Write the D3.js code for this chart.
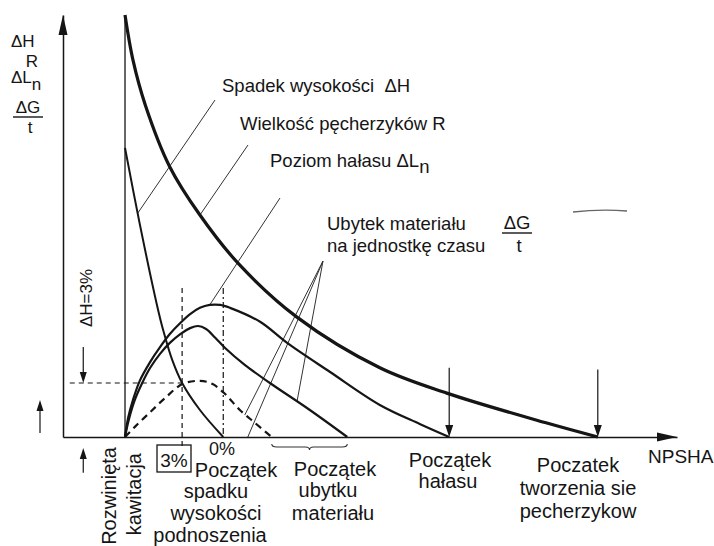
<!DOCTYPE html>
<html>
<head>
<meta charset="utf-8">
<script src="https://cdn.jsdelivr.net/npm/d3@7"></script>
<style>
  body { margin: 0; background: #fff; }
  svg { display: block; font-family: 'Liberation Sans', Arial, sans-serif; }
</style>
</head>
<body>
<div id="chart"></div>
<script>
// x = NPSHA (relative 0-100), y = relative value (0-100)
var bubble_size = [[10.1,100],[11.4,89.3],[13.4,78.7],[17.4,64.0],[22.3,52.6],[28.5,41.2],[38.1,28.4],[51.6,16.4],[62.5,10.4],[78.8,3.3],[87.1,0]];
var head_drop = [[10.1,68.5],[12.5,50.5],[15.3,31.3],[16.3,25.4],[17.8,18.2],[19.4,12.8],[22.3,6.4],[26.1,0]];
var noise_level = [[10.1,0],[10.6,4.5],[11.4,8.8],[12.5,13.3],[14.2,17.8],[15.8,21.3],[17.4,24.4],[19.1,27.0],[20.7,29.1],[22.3,30.6],[23.9,31.3],[25.6,31.3],[27.2,30.6],[32.1,27.3],[36.5,22.3],[43.5,15.4],[51.6,7.6],[58.1,3.1],[62.9,0]];
var material_loss = [[10.1,0],[10.7,4.0],[11.7,8.8],[12.9,12.8],[14.2,16.4],[15.8,19.7],[17.4,22.3],[19.1,24.4],[20.7,25.8],[22.0,26.3],[23.3,25.6],[24.8,23.5],[26.4,21.1],[29.6,17.1],[33.7,12.8],[40.2,6.4],[46.3,0]];
var material_loss_rate = [[10.1,0],[11.7,2.4],[14.2,5.9],[16.6,9.2],[19.5,12.6],[22.3,13.3],[24.3,12.6],[26.4,10.2],[28.8,6.4],[31.3,3.3],[34.0,0]];

var developed_x = 10.1;
var drop3_x = 19.4;
var drop0_x = 26.1;
var noise_start_x = 62.9;
var bubble_start_x = 87.1;
var dh3_level = 12.8;

function CavitationPlotter() {
  this._width = 714;
  this._height = 546;
  this._font = '18.5px';
  this._font_bottom = '20px';
  this._ink = '#151515';
}

CavitationPlotter.prototype._arrow = function(g, x1, y1, x2, y2, head_len, head_w, sw) {
  let ang = Math.atan2(y2 - y1, x2 - x1);
  let bx = x2 - head_len * Math.cos(ang);
  let by = y2 - head_len * Math.sin(ang);
  let nx = -Math.sin(ang) * head_w;
  let ny = Math.cos(ang) * head_w;
  g.append('line')
    .attr('x1', x1).attr('y1', y1).attr('x2', bx).attr('y2', by)
    .attr('stroke', this._ink).attr('stroke-width', sw || 1.2);
  g.append('path')
    .attr('d', 'M' + x2 + ',' + y2 + 'L' + (bx + nx) + ',' + (by + ny) + 'L' + (bx - nx) + ',' + (by - ny) + 'Z')
    .attr('fill', this._ink);
}

CavitationPlotter.prototype._text = function(g, x, y, txt, size, anchor) {
  return g.append('text')
    .attr('x', x).attr('y', y)
    .attr('font-size', size || this._font)
    .attr('text-anchor', anchor || 'start')
    .attr('fill', this._ink)
    .style('white-space', 'pre')
    .text(txt);
}

CavitationPlotter.prototype._plot_curves = function(g, x, y) {
  let self = this;
  let line = d3.line()
    .x(function(d) { return x(d[0]); })
    .y(function(d) { return y(d[1]); })
    .curve(d3.curveCatmullRom.alpha(0.5));

  let series = [
    {data: bubble_size, w: 3.2, dash: null},
    {data: noise_level, w: 2.2, dash: null},
    {data: material_loss, w: 2.2, dash: null},
    {data: head_drop, w: 2, dash: null},
    {data: material_loss_rate, w: 2.2, dash: '7,5'}
  ];
  g.selectAll('path.curve')
    .data(series)
    .join('path')
    .attr('class', 'curve')
    .attr('d', function(d) { return line(d.data); })
    .attr('fill', 'none')
    .attr('stroke', self._ink)
    .attr('stroke-width', function(d) { return d.w; })
    .attr('stroke-dasharray', function(d) { return d.dash; });
}

CavitationPlotter.prototype._plot_guides = function(g, x, y) {
  let ink = this._ink;
  // developed cavitation line
  g.append('line')
    .attr('x1', x(developed_x)).attr('x2', x(developed_x))
    .attr('y1', y(0)).attr('y2', y(100))
    .attr('stroke', ink).attr('stroke-width', 1.3);
  // dH = 3% level
  g.append('line')
    .attr('x1', x(1.1)).attr('x2', x(drop3_x))
    .attr('y1', y(dh3_level)).attr('y2', y(dh3_level))
    .attr('stroke', ink).attr('stroke-width', 1.2).attr('stroke-dasharray', '5,4');
  g.append('line')
    .attr('x1', x(drop3_x)).attr('x2', x(drop3_x))
    .attr('y1', y(35.3)).attr('y2', y(-2.6))
    .attr('stroke', ink).attr('stroke-width', 1.2).attr('stroke-dasharray', '5,4');
  g.append('line')
    .attr('x1', x(drop0_x)).attr('x2', x(drop0_x))
    .attr('y1', y(35.3)).attr('y2', y(0))
    .attr('stroke', ink).attr('stroke-width', 1.2).attr('stroke-dasharray', '6,3,2,3');

  this._arrow(g, x(noise_start_x), y(16.4), x(noise_start_x), y(0), 12, 4, 1.2);
  this._arrow(g, x(bubble_start_x), y(16), x(bubble_start_x), y(0), 12, 4, 1.2);
  this._arrow(g, x(3.3), y(21.3), x(3.3), y(dh3_level), 11, 3.5, 1.2);
  this._arrow(g, x(3.3), y(-8.5), x(3.3), y(-2.6), 11, 3.5, 1.2);
  this._arrow(g, 40, 433, 40, 400, 11, 3.5, 1.2);
}

CavitationPlotter.prototype._plot_axes = function(g, x, y) {
  g.append('g')
    .attr('transform', 'translate(0,' + y(0) + ')')
    .call(d3.axisBottom(x).tickValues([]).tickSizeOuter(0))
    .select('.domain').attr('stroke', this._ink).attr('stroke-width', 1.5);
  g.append('g')
    .attr('transform', 'translate(' + x(0) + ',0)')
    .call(d3.axisLeft(y).tickValues([]).tickSizeOuter(0))
    .select('.domain').attr('stroke', this._ink).attr('stroke-width', 1.5);
  this._arrow(g, x(100) - 20, y(0), x(100), y(0), 20, 4.5, 1.5);
  this._arrow(g, x(0), y(100) + 20, x(0), y(100), 20, 4.5, 1.5);
}

CavitationPlotter.prototype._plot_leaders = function(g, x, y) {
  let leaders = [
    {from: [215, 100], to: [12.2, 53.1]},
    {from: [248, 145], to: [22.3, 52.6]},
    {from: [280, 198], to: [23.9, 31.3]},
    {from: [323, 261], to: [29.6, 5.2]},
    {from: [323, 261], to: [30.1, 0]},
    {from: [323, 261], to: [38.1, 8.3]}
  ];
  g.selectAll('line.leader')
    .data(leaders)
    .join('line')
    .attr('class', 'leader')
    .attr('x1', function(d) { return d.from[0]; })
    .attr('y1', function(d) { return d.from[1]; })
    .attr('x2', function(d) { return x(d.to[0]); })
    .attr('y2', function(d) { return y(d.to[1]); })
    .attr('stroke', '#333')
    .attr('stroke-width', 1);

  // brace under the axis
  let bx0 = x(34.0), bx1 = x(46.3), bm = (bx0 + bx1) / 2, by = y(0) + 10;
  g.append('path')
    .attr('d', 'M' + bx0 + ',' + (by - 3) + 'Q' + bx0 + ',' + by + ' ' + (bx0 + 5) + ',' + by +
      'L' + (bm - 4) + ',' + by + 'Q' + bm + ',' + by + ' ' + bm + ',' + (by + 3) +
      'Q' + bm + ',' + by + ' ' + (bm + 4) + ',' + by +
      'L' + (bx1 - 5) + ',' + by + 'Q' + bx1 + ',' + by + ' ' + bx1 + ',' + (by - 3))
    .attr('fill', 'none').attr('stroke', '#333').attr('stroke-width', 1.1);

  // stray scan mark
  g.append('path')
    .attr('d', 'M573,212 Q600,209 627,211')
    .attr('fill', 'none').attr('stroke', '#666').attr('stroke-width', 1.3);
}

CavitationPlotter.prototype._plot_labels = function(g) {
  let self = this;
  let ink = this._ink;

  this._text(g, 222, 92, 'Spadek wysokości  \u0394H');
  this._text(g, 240, 130, 'Wielkość pęcherzyków R');
  let p = this._text(g, 270, 167, 'Poziom hałasu \u0394L');
  p.append('tspan').attr('dy', 6).text('n');
  this._text(g, 327, 230, 'Ubytek materiału');
  this._text(g, 327, 252, 'na jednostkę czasu');
  this._text(g, 517, 229, '\u0394G', null, 'middle');
  g.append('line').attr('x1', 502).attr('x2', 532).attr('y1', 233).attr('y2', 233)
    .attr('stroke', ink).attr('stroke-width', 1.4);
  this._text(g, 519, 252, 't', null, 'middle');

  // y axis title
  this._text(g, 11, 47, '\u0394H', '17px');
  this._text(g, 32, 67, 'R', '17px', 'middle');
  let l = this._text(g, 11, 83, '\u0394L', '17px');
  l.append('tspan').attr('dy', 7).text('n');
  this._text(g, 28, 113, '\u0394G', '17px', 'middle');
  g.append('line').attr('x1', 13).attr('x2', 43).attr('y1', 117).attr('y2', 117)
    .attr('stroke', ink).attr('stroke-width', 1.4);
  this._text(g, 30, 133, 't', '17px', 'middle');

  this._text(g, 0, 0, '\u0394H=3%', '17px', 'middle')
    .attr('transform', 'translate(92,298) rotate(-90)');

  // below the axis
  this._text(g, 0, 0, 'Rozwinięta', this._font_bottom, 'end')
    .attr('transform', 'translate(116,447) rotate(-90)');
  this._text(g, 0, 0, 'kawitacja', this._font_bottom, 'end')
    .attr('transform', 'translate(141,453) rotate(-90)');

  g.append('rect').attr('x', 157).attr('y', 445).attr('width', 34).attr('height', 27)
    .attr('fill', 'none').attr('stroke', ink).attr('stroke-width', 1.3);
  this._text(g, 174, 467, '3%', '19px', 'middle');
  this._text(g, 222, 455, '0%', '18px', 'middle');

  let blocks = [
    {lines: ['Początek', 'spadku', 'wysokości', 'podnoszenia'], xs: [236, 216, 216, 210], ys: [477, 498, 520, 542]},
    {lines: ['Początek', 'ubytku', 'materiału'], xs: [335, 328, 333], ys: [476, 497, 520]},
    {lines: ['Początek', 'hałasu'], xs: [450, 448], ys: [467, 488]},
    {lines: ['Poczatek', 'tworzenia sie', 'pecherzykow'], xs: [578, 578, 578], ys: [472, 495, 518]}
  ];
  for(let b of blocks) {
    for(let i = 0; i < b.lines.length; i++) {
      self._text(g, b.xs[i], b.ys[i], b.lines[i], self._font_bottom, 'middle');
    }
  }
  this._text(g, 648, 463, 'NPSHA', '19px');
}

CavitationPlotter.prototype.plot = function(container) {
  let svg = d3.select(container).append('svg')
    .attr('width', this._width)
    .attr('height', this._height);
  svg.append('rect').attr('width', this._width).attr('height', this._height).attr('fill', '#fff');

  let x = d3.scaleLinear().domain([0, 100]).range([63, 677]);
  let y = d3.scaleLinear().domain([0, 100]).range([437, 15]);

  let g = svg.append('g');
  this._plot_leaders(g, x, y);
  this._plot_guides(g, x, y);
  this._plot_curves(g, x, y);
  this._plot_axes(g, x, y);
  this._plot_labels(g);
}

new CavitationPlotter().plot('#chart');
</script>
</body>
</html>
